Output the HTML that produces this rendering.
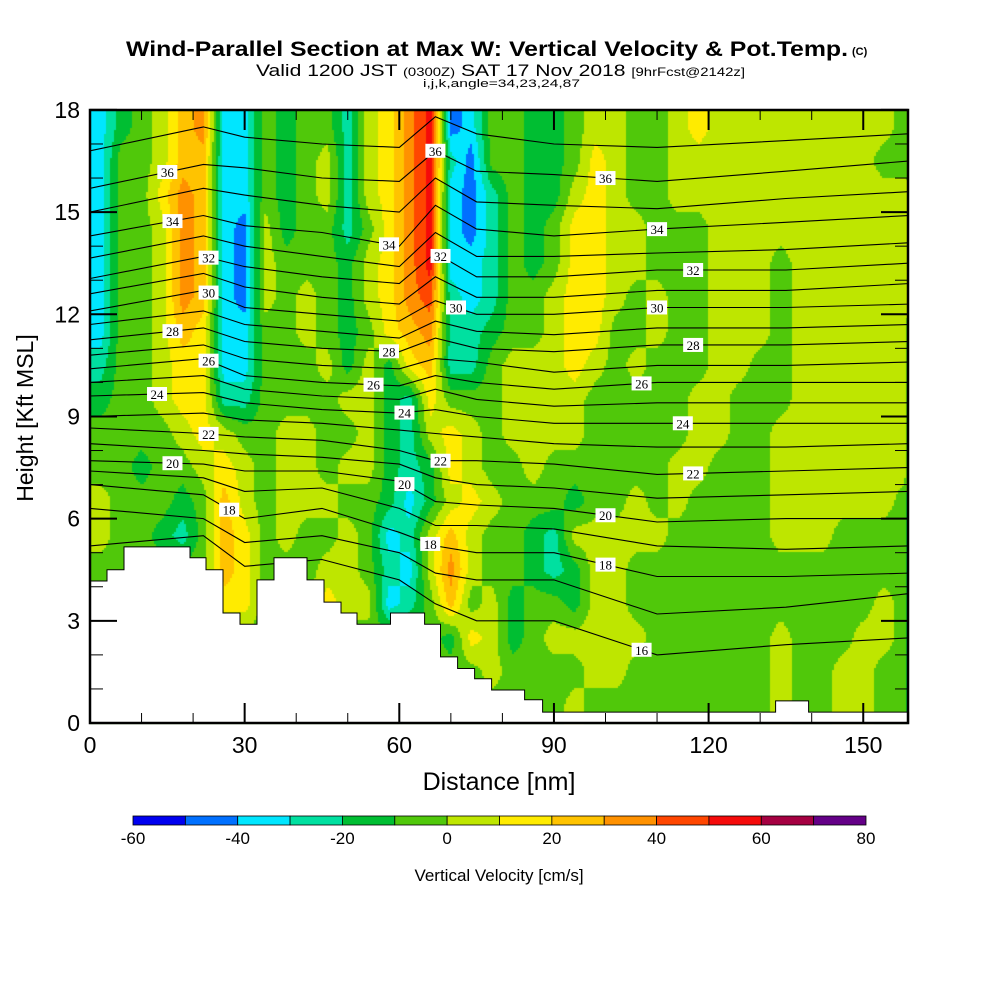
<!DOCTYPE html>
<html><head><meta charset="utf-8"><style>
html,body{margin:0;padding:0;background:#fff;}
#wrap{position:relative;width:1000px;height:1000px;}
#field{position:absolute;left:0;top:0;}
svg{position:absolute;left:0;top:0;display:block;font-family:"Liberation Sans",Arial,sans-serif;}
</style></head><body>
<div id="wrap">
<canvas id="field" width="1000" height="1000"></canvas>
<svg id="chart" width="1000" height="1000" viewBox="0 0 1000 1000" xmlns="http://www.w3.org/2000/svg">
<g>
<text x="126" y="56" font-size="21" font-weight="bold" textLength="722" lengthAdjust="spacingAndGlyphs">Wind-Parallel Section at Max W: Vertical Velocity &amp; Pot.Temp.</text>
<text x="852" y="55" font-size="11" font-weight="bold">(C)</text>
<text x="256" y="76" font-size="17" textLength="489" lengthAdjust="spacingAndGlyphs">Valid 1200 JST <tspan font-size="12">(0300Z)</tspan> SAT 17 Nov 2018 <tspan font-size="12">[9hrFcst@2142z]</tspan></text>
<text x="423" y="87" font-size="11" textLength="157" lengthAdjust="spacingAndGlyphs">i,j,k,angle=34,23,24,87</text>
</g>
<defs><clipPath id="plotclip"><rect x="90" y="110" width="818" height="613"/></clipPath></defs>
<g id="isentropes" clip-path="url(#plotclip)"></g>
<g id="terrain"></g>
<g id="labels"></g>
<g id="axes"></g>
<g id="colorbar"></g>
</svg>
</div>
<script>
// ---- data ----
const levelColors = ["#0000f0","#0070ff","#00e6ff","#00e0a0","#00be32","#50c80a","#bee600","#ffeb00","#ffc300","#ff9100","#ff4600","#f50a0a","#a50041","#640087"];
const colorbarTicks = [-60,-40,-20,0,20,40,60,80];
const xTicks = [0,30,60,90,120,150];
const yTicks = [0,3,6,9,12,15,18];
// velocity class grid: rows from 17-18 kft (top) down to 0-1 kft; columns of 4 nm
const wRows = [
"2456892254553679B125544566556766666666655",
"2556882254563679B315544576556666666666555",
"2557982254563679B213544676556666666666665",
"2556982164553579B213545776655566666666665",
"2556982165554679B223545776655566656666666",
"2556982165654679A323556776565566656666666",
"2556872255654578933455677556556665666666",
"3556772255564647833566676565556655666666",
"4556773355556643755566665555566555666666",
"5555676556655643676566665555566556666666",
"5545567656656643476556555555665556666666",
"6555458656665542467655545565655556666665",
"6554358756556523686554366666555556665555",
"5555558755566532696554346655555555555555",
"5555557755576623585645546655555555555565",
"5555555555555555547645666665555556555665",
"5555555555555555555655556655555556556655",
"5555555555555555555555565555555556556655"
];
const terrainX = [0,3.3,6.6,19.4,22.5,25.8,29.1,32.4,35.7,42.1,45.4,48.7,51.8,58.3,64.9,68.0,71.3,74.6,77.9,84.3,87.8,133.0,139.4,158.8];
const terrainH = [4.17,4.5,5.17,4.85,4.5,3.23,2.9,4.2,4.85,4.2,3.55,3.23,2.9,3.23,2.9,1.94,1.6,1.3,0.97,0.68,0.32,0.65,0.32];
const thetaX = [0,22,30,45,60,67,75,90,110,135,158.8];
const thetaLevels = [37,36,35,34,33,32,31,30,29,28,27,26,25,24,23,22,21,20,19,18,17,16];
const thetaH37 = [16.8,17.5,17.2,17.0,16.9,17.8,17.3,17.0,16.9,17.1,17.3];
const thetaH36 = [15.7,16.4,16.3,16.0,15.9,16.8,16.2,16.1,15.9,16.2,16.5];
const thetaH35 = [15.0,15.7,15.5,15.2,15.0,16.0,15.3,15.2,15.1,15.4,15.6];
const thetaH34 = [14.3,14.9,14.6,14.4,14.0,15.2,14.5,14.3,14.5,14.7,14.9];
const thetaH33 = [13.65,14.3,14.0,13.7,13.4,14.4,13.7,13.7,13.8,13.9,14.1];
const thetaH32 = [13.05,13.7,13.4,13.1,12.9,13.8,13.1,13.1,13.3,13.3,13.5];
const thetaH31 = [12.6,13.2,12.8,12.5,12.3,13.1,12.5,12.5,12.7,12.7,12.9];
const thetaH30 = [12.1,12.7,12.2,12.0,11.8,12.4,12.0,12.0,12.2,12.2,12.3];
const thetaH29 = [11.7,12.1,11.7,11.5,11.3,11.8,11.5,11.4,11.6,11.6,11.7];
const thetaH28 = [11.25,11.6,11.2,11.0,10.9,11.3,11.0,10.9,11.1,11.1,11.2];
const thetaH27 = [10.8,11.1,10.7,10.5,10.4,10.7,10.6,10.3,10.5,10.5,10.6];
const thetaH26 = [10.4,10.7,10.2,10.0,9.9,10.2,10.0,9.8,10.0,10.0,10.0];
const thetaH25 = [10.0,10.2,9.8,9.6,9.5,9.8,9.5,9.3,9.4,9.4,9.4];
const thetaH24 = [9.6,9.7,9.4,9.2,9.1,9.2,9.0,8.8,8.8,8.8,8.8];
const thetaH23 = [9.0,9.1,8.9,8.8,8.6,8.5,8.4,8.2,8.1,8.1,8.2];
const thetaH22 = [8.66,8.5,8.4,8.3,8.0,7.7,7.7,7.6,7.3,7.4,7.5];
const thetaH21 = [8.2,8.0,7.9,7.8,7.6,7.2,7.0,6.9,6.6,6.7,6.8];
const thetaH20 = [7.7,7.6,7.4,7.4,7.1,6.5,6.4,6.3,5.9,6.0,6.0];
const thetaH19 = [7.4,7.2,6.8,6.9,6.3,5.8,5.8,5.7,5.2,5.1,5.2];
const thetaH18 = [7.0,6.7,6.0,6.3,5.6,5.2,5.0,5.0,4.3,4.3,4.4];
const thetaH17 = [6.3,6.0,5.3,5.5,5.0,4.4,4.2,4.2,3.2,3.4,3.8];
const thetaH16 = [5.2,5.5,4.6,4.8,4.2,3.5,3.0,3.0,2.0,2.3,2.5];
const thetaHeights = [thetaH37,thetaH36,thetaH35,thetaH34,thetaH33,thetaH32,thetaH31,thetaH30,thetaH29,thetaH28,thetaH27,thetaH26,thetaH25,thetaH24,thetaH23,thetaH22,thetaH21,thetaH20,thetaH19,thetaH18,thetaH17,thetaH16];
const labelLevels = [36,34,32,30,28,26,24,22,20,18,36,34,32,30,28,26,24,22,20,18,36,34,32,30,28,26,24,22,20,18,16];
const labelAt = [15,16,23,23,16,23,13,23,16,27,67,58,68,71,58,55,61,68,61,66,100,110,117,110,117,107,115,117,100,100,107];

// ---- scales ----
const NS = "http://www.w3.org/2000/svg";
const X0 = 90, XS = 5.155, Y0 = 723, YS = 34.06;
function xs(nm){ return X0 + nm*XS; }
function ys(h){ return Y0 - h*YS; }
function mk(tag, attrs, parent){ const e=document.createElementNS(NS,tag); for(const k in attrs) e.setAttribute(k,attrs[k]); parent.appendChild(e); return e; }
const codes = "0123456789ABCD";

// ---- field (bilinear interpolation of class grid, quantized) ----
const nRows = wRows.length, nCols = wRows[0].length;
function gv(r,c){ r=Math.max(0,Math.min(nRows-1,r)); c=Math.max(0,Math.min(nCols-1,c)); return codes.indexOf(wRows[r][c]) + 0.5; }
const ctx = document.getElementById("field").getContext("2d");
ctx.fillStyle="#fff"; ctx.fillRect(0,0,1000,1000);
const STEP = 2;
for(let py=110; py<723; py+=STEP){
  const h = (Y0 - (py+STEP/2))/YS;
  const rf = (17.5 - h);
  const r0 = Math.floor(rf), tr = rf - r0;
  for(let px=90; px<908; px+=STEP){
    const nm = (px+STEP/2 - X0)/XS;
    const cf = nm/4 - 0.5;
    const c0 = Math.floor(cf), tc = cf - c0;
    const v = gv(r0,c0)*(1-tr)*(1-tc) + gv(r0,c0+1)*(1-tr)*tc + gv(r0+1,c0)*tr*(1-tc) + gv(r0+1,c0+1)*tr*tc;
    const idx = Math.max(0, Math.min(levelColors.length-1, Math.floor(v)));
    ctx.fillStyle = levelColors[idx];
    ctx.fillRect(px,py,STEP,STEP);
  }
}

// ---- isentropes ----
const isoG = document.getElementById("isentropes");
function thetaY(li, nm){
  const hs = thetaHeights[li];
  for(let i=0;i<thetaX.length-1;i++){
    if(nm<=thetaX[i+1]){ const t=(nm-thetaX[i])/(thetaX[i+1]-thetaX[i]); return ys(hs[i]+(hs[i+1]-hs[i])*t); }
  }
  return ys(hs[hs.length-1]);
}
for(let li=0;li<thetaLevels.length;li++){
  const hs = thetaHeights[li];
  let d = "";
  for(let i=0;i<thetaX.length;i++){ d += (i?"L":"M")+xs(thetaX[i]).toFixed(1)+","+ys(hs[i]).toFixed(1); }
  const p = mk("path",{d:d,fill:"none",stroke:"#000","stroke-width":1.1},isoG);
  
  
}

// ---- terrain ----
const terG = document.getElementById("terrain");
let td = "M"+xs(terrainX[0])+","+ys(0);
for(let i=0;i<terrainH.length;i++){
  td += "L"+xs(terrainX[i]).toFixed(1)+","+ys(terrainH[i]).toFixed(1)+"L"+xs(terrainX[i+1]).toFixed(1)+","+ys(terrainH[i]).toFixed(1);
}
td += "L"+xs(terrainX[terrainX.length-1])+","+ys(0)+"Z";
const tp = mk("path",{d:td,fill:"#fff",stroke:"#000","stroke-width":1},terG);



// ---- contour labels ----
const labG = document.getElementById("labels");
for(let i=0;i<labelLevels.length;i++){
  const li = thetaLevels.indexOf(labelLevels[i]);
  const cx = xs(labelAt[i]), cy = thetaY(li, labelAt[i]);
  const g = mk("g",{},labG);
  
  
  mk("rect",{x:cx-10,y:cy-7,width:20,height:14,fill:"#fff"},g);
  const t = mk("text",{x:cx,y:cy+5,"font-size":13,"text-anchor":"middle","font-family":"Liberation Serif, serif"},g);
  t.textContent = labelLevels[i];
}

// ---- axes ----
const axG = document.getElementById("axes");
for(let k=0;k<=18;k++){
  const y = ys(k), major = (k%3===0);
  const L = major?27:13;
  mk("line",{x1:90,y1:y,x2:90+L,y2:y,stroke:"#000","stroke-width":major?2:1},axG);
  mk("line",{x1:908,y1:y,x2:908-L,y2:y,stroke:"#000","stroke-width":major?2:1},axG);
}
for(let v=0; v<=158; v+=10){
  const x = xs(v), major = (v%30===0);
  const L = major?20:10;
  mk("line",{x1:x,y1:723,x2:x,y2:723-L,stroke:"#000","stroke-width":major?2:1},axG);
  mk("line",{x1:x,y1:110,x2:x,y2:110+L,stroke:"#000","stroke-width":major?2:1},axG);
}
const frame = mk("rect",{x:90,y:110,width:818,height:613,fill:"none",stroke:"#000","stroke-width":2.5},axG);


for(const v of yTicks){
  const t = mk("text",{x:80,y:ys(v)+8,"font-size":23,"text-anchor":"end"},axG);
  
  
  t.textContent = v;
}
for(const v of xTicks){
  const t = mk("text",{x:xs(v),y:753,"font-size":23,"text-anchor":"middle"},axG);
  
  
  t.textContent = v;
}
const xt = mk("text",{x:499,y:790,"font-size":25,"text-anchor":"middle"},axG);


xt.textContent = "Distance [nm]";
const yt = mk("text",{x:0,y:0,"font-size":23,"text-anchor":"middle",transform:"translate(33,418) rotate(-90)"},axG);


yt.textContent = "Height [Kft MSL]";

// ---- colorbar ----
const cbG = document.getElementById("colorbar");
const cbX0 = 133, cbX1 = 866, cbW = (cbX1-cbX0)/levelColors.length;
function cbx(v){ return cbX0 + (v+60)/140*(cbX1-cbX0); }
for(let i=0;i<levelColors.length;i++){
  const r = mk("rect",{x:cbX0+i*cbW,y:816,width:cbW,height:9,fill:levelColors[i],stroke:"#000","stroke-width":0.8},cbG);
  
  
}
for(const v of colorbarTicks){
  const t = mk("text",{x:cbx(v),y:844,"font-size":17,"text-anchor":"middle"},cbG);
  
  
  t.textContent = v;
}
const cbt = mk("text",{x:499,y:881,"font-size":17,"text-anchor":"middle"},cbG);


cbt.textContent = "Vertical Velocity [cm/s]";
</script>
</body></html>
